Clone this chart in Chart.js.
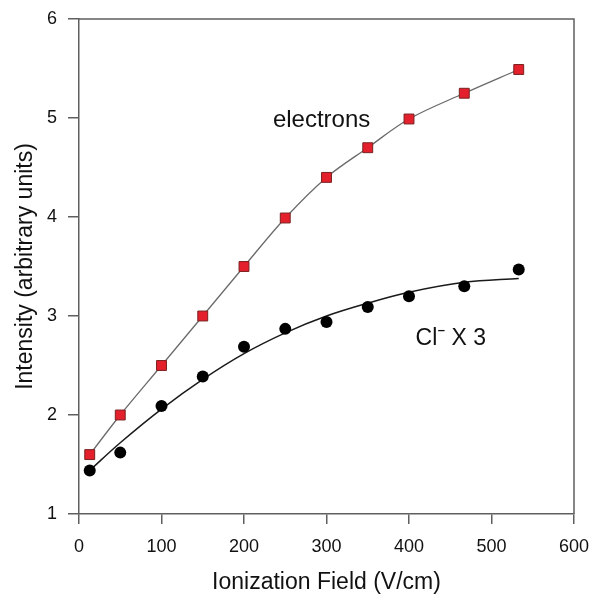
<!DOCTYPE html>
<html>
<head>
<meta charset="utf-8">
<script src="https://cdn.jsdelivr.net/npm/chart.js@4.4.1/dist/chart.umd.min.js"></script>
<style>
html,body{margin:0;padding:0;background:#fff;}
#c{display:block;}
</style>
</head>
<body>
<canvas id="c" width="591" height="596"></canvas>
<script>
// Data
const fieldValues = [13, 50, 100, 150, 200, 250, 300, 350, 400, 467, 533];
const electronValues = [1.6, 2.0, 2.5, 3.0, 3.5, 3.99, 4.4, 4.7, 4.99, 5.25, 5.49];
const chlorideValues = [1.44, 1.62, 2.09, 2.39, 2.69, 2.87, 2.94, 3.09, 3.2, 3.3, 3.47];
const chlorideFitValues = [1.44, 1.72, 2.06, 2.36, 2.62, 2.83, 3.0, 3.13, 3.24, 3.34, 3.38];
const xTicks = [0, 100, 200, 300, 400, 500, 600];
const yTicks = [1, 2, 3, 4, 5, 6];
const labelElectrons = {text: 'electrons', x: 235, y: 4.91};
const labelChloride = {text: 'Cl', sup: '\u2013', rest: ' X 3', x: 408, y: 2.71};

const FONT = '"Liberation Sans", Arial, Helvetica, sans-serif';
const AXIS = '#5f5f5f';

const pts = (xs, ys) => xs.map((x, i) => ({x: x, y: ys[i]}));

const boxAndLabels = {
  id: 'boxAndLabels',
  afterDatasetsDraw(chart) {
    const {ctx, chartArea: a, scales: {x, y}} = chart;
    ctx.save();
    ctx.strokeStyle = AXIS;
    ctx.lineWidth = 1.5;
    ctx.beginPath();
    ctx.moveTo(a.left, a.top);
    ctx.lineTo(a.right, a.top);
    ctx.lineTo(a.right, a.bottom);
    ctx.stroke();

    ctx.fillStyle = '#111';
    ctx.textBaseline = 'alphabetic';
    ctx.textAlign = 'left';
    ctx.font = '24px ' + FONT;
    ctx.fillText(labelElectrons.text, x.getPixelForValue(labelElectrons.x), y.getPixelForValue(labelElectrons.y));

    let px = x.getPixelForValue(labelChloride.x);
    const py = y.getPixelForValue(labelChloride.y);
    ctx.font = '23px ' + FONT;
    ctx.fillText(labelChloride.text, px, py);
    px += ctx.measureText(labelChloride.text).width + 0.5;
    ctx.font = 'bold 13px ' + FONT;
    ctx.fillText(labelChloride.sup, px, py - 11);
    px += ctx.measureText(labelChloride.sup).width;
    ctx.font = '23px ' + FONT;
    ctx.fillText(labelChloride.rest, px, py);
    ctx.restore();
  }
};

new Chart(document.getElementById('c'), {
  type: 'scatter',
  data: {
    datasets: [
      {
        label: 'electrons fit',
        data: pts(fieldValues, electronValues),
        showLine: true,
        pointRadius: 0,
        borderColor: '#6a6a6a',
        borderWidth: 1.3,
        tension: 0.35,
        order: 3
      },
      {
        label: 'Cl fit',
        data: pts(fieldValues, chlorideFitValues),
        showLine: true,
        pointRadius: 0,
        borderColor: '#1a1a1a',
        borderWidth: 1.5,
        tension: 0.35,
        order: 3
      },
      {
        label: 'electrons',
        data: pts(fieldValues, electronValues),
        pointStyle: 'rect',
        pointRadius: 7,
        pointBackgroundColor: '#e3202b',
        pointBorderColor: '#7a2020',
        pointBorderWidth: 1,
        showLine: false,
        order: 1
      },
      {
        label: 'Cl- X 3',
        data: pts(fieldValues, chlorideValues),
        pointStyle: 'circle',
        pointRadius: 6,
        pointBackgroundColor: '#000',
        pointBorderColor: '#000',
        pointBorderWidth: 0,
        showLine: false,
        order: 1
      }
    ]
  },
  options: {
    responsive: false,
    animation: false,
    devicePixelRatio: 1,
    layout: {padding: {left: 0, top: 19, right: 17, bottom: 0}},
    plugins: {legend: {display: false}, tooltip: {enabled: false}},
    scales: {
      x: {
        type: 'linear',
        min: 0, max: 600,
        afterBuildTicks(s) { s.ticks = xTicks.map(v => ({value: v})); },
        afterFit(s) { s.height = 82; s.paddingLeft = 0; s.paddingRight = 0; },
        grid: {drawOnChartArea: false, drawTicks: true, tickLength: 10, color: AXIS, lineWidth: 1.5},
        border: {display: true, color: AXIS, width: 1.5},
        ticks: {color: '#111', font: {family: FONT, size: 18}, padding: 12, maxRotation: 0},
        title: {display: true, text: 'Ionization Field (V/cm)', color: '#111', font: {family: FONT, size: 23}, padding: {top: 0, bottom: 0}}
      },
      y: {
        type: 'linear',
        min: 1, max: 6,
        afterBuildTicks(s) { s.ticks = yTicks.map(v => ({value: v})); },
        afterFit(s) { s.width = 79; s.paddingTop = 0; s.paddingBottom = 0; },
        grid: {drawOnChartArea: false, drawTicks: true, tickLength: 11, color: AXIS, lineWidth: 1.5},
        border: {display: true, color: AXIS, width: 1.5},
        ticks: {color: '#111', font: {family: FONT, size: 18}, padding: 11},
        title: {display: true, text: 'Intensity (arbitrary units)', color: '#111', font: {family: FONT, size: 23}, padding: {top: 12, bottom: 0}}
      }
    }
  },
  plugins: [boxAndLabels]
});
</script>
</body>
</html>
